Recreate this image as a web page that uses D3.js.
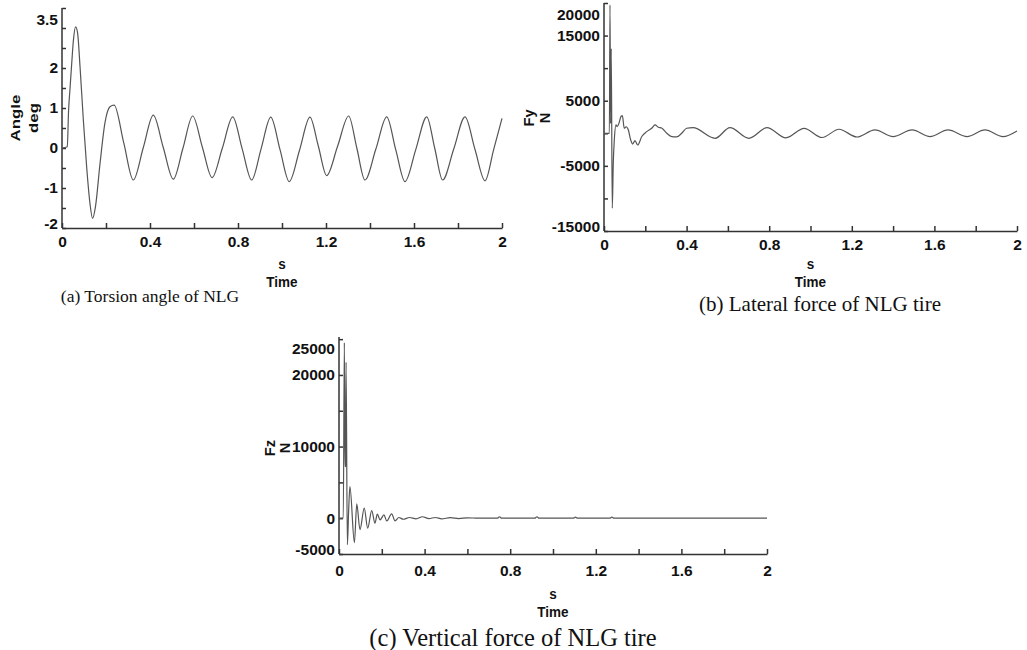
<!DOCTYPE html>
<html>
<head>
<meta charset="utf-8">
<script src="https://cdn.jsdelivr.net/npm/d3@7"></script>
<style>
  body { margin: 0; background: #fff; }
  svg { display: block; }
  .axis text { font-family: "Liberation Sans", Arial, sans-serif; font-weight: bold; font-size: 15.5px; fill: #111; }
  .axis path, .axis line { stroke: #333; stroke-width: 1.5; }
  .ttl { font-family: "Liberation Sans", Arial, sans-serif; font-weight: bold; fill: #111; }
  .stretch { transform-box: fill-box; transform-origin: center; transform: scaleY(1.15); }
  .cap { font-family: "Liberation Serif", "Times New Roman", serif; fill: #111; }
  .curve { fill: none; stroke: #555; stroke-width: 1.2; }
</style>
</head>
<body>
<svg id="fig" width="1027" height="650"></svg>
<script>
//------------------ data ------------------
var timeTicks = [0, 0.2, 0.4, 0.6, 0.8, 1.0, 1.2, 1.4, 1.6, 1.8, 2.0];
var timeLabels = [0, 0.4, 0.8, 1.2, 1.6, 2];

// (a) torsion angle, deg
var angleT = [0, 0.024, 0.030, 0.036, 0.044, 0.052, 0.062, 0.071, 0.082, 0.097, 0.112, 0.127, 0.139, 0.152, 0.173, 0.195, 0.218, 0.237,
  0.281, 0.324, 0.370, 0.415, 0.460, 0.506, 0.550, 0.594, 0.638, 0.682, 0.729, 0.776, 0.819, 0.862, 0.905, 0.949, 0.991, 1.033,
  1.080, 1.127, 1.165, 1.203, 1.253, 1.303, 1.340, 1.377, 1.427, 1.476, 1.517, 1.559, 1.608, 1.658, 1.694, 1.730, 1.781, 1.832,
  1.877, 1.923, 1.962, 2.0];
var angleV = [0, 0.03, 0.95, 1.45, 2.1, 2.7, 3.03, 2.87, 2.03, 0.7, -0.47, -1.38, -1.76, -1.47, -0.38, 0.62, 1.03, 1.07,
  0.12, -0.8, 0.02, 0.82, 0.02, -0.78, 0.0, 0.8, 0.02, -0.74, 0.0, 0.78, -0.02, -0.8, -0.02, 0.77, -0.04, -0.84,
  -0.05, 0.77, 0.05, -0.69, 0.05, 0.8, 0.0, -0.8, -0.02, 0.78, -0.04, -0.84, -0.04, 0.78, 0.0, -0.8, -0.02, 0.78,
  -0.03, -0.82, -0.04, 0.74];
var angleTicks = [-2, -1.5, -1, -0.5, 0, 0.5, 1, 1.5, 2, 2.5, 3, 3.5];
var angleLabels = [-2, -1, 0, 1, 2, 3.5];

// (b) lateral force Fy, N
var fyT = [0, 0.026, 0.029, 0.032, 0.035, 0.040, 0.045, 0.050, 0.058, 0.064, 0.073, 0.082, 0.089, 0.098, 0.107, 0.118, 0.129,
  0.139, 0.150, 0.163, 0.183, 0.207, 0.231, 0.247, 0.263, 0.279, 0.304, 0.328, 0.352, 0.376, 0.400, 0.431, 0.538, 0.610,
  0.702, 0.789, 0.881, 0.969, 1.056, 1.138, 1.225, 1.312, 1.400, 1.492, 1.579, 1.666, 1.758, 1.845, 1.932, 2.0];
var fyV = [0, 0, 19700, 1500, 13000, -11500, -4500, -1000, 1300, 1000, 1600, 2550, 2700, 770, 1000, 500, -1000,
  -1650, -1130, -1800, -500, 250, 770, 1280, 920, 800, 0, -500, -550, 0, 770, 860, -770, 860,
  -770, 860, -700, 760, -650, 620, -570, 520, -520, 520, -520, 520, -520, 520, -520, 350];
var fyTicks = [-15000, -10000, -5000, 0, 5000, 10000, 15000, 20000];
var fyLabels = [-15000, -5000, 5000, 15000, 20000];

// (c) vertical force Fz, N
var fzT = [0, 0.020, 0.025, 0.028, 0.031, 0.033, 0.039, 0.045, 0.051, 0.072, 0.083, 0.098, 0.118, 0.134, 0.153, 0.168,
  0.179, 0.192, 0.210, 0.223, 0.246, 0.262, 0.280, 0.300, 0.330, 0.360, 0.390, 0.420, 0.450, 0.480, 0.520, 0.560,
  0.600, 0.650, 0.740, 0.750, 0.760, 0.915, 0.925, 0.935, 1.095, 1.105, 1.115, 1.265, 1.275, 1.285, 2.0];
var fzV = [0, 0, 24500, 7200, 7300, 21800, -3700, 1000, 4400, -3400, 2000, -1600, 1400, -1400, 1060, -700,
  560, -230, 460, -380, 600, -380, 100, -150, 100, -100, 200, -50, 100, -100, 80, -50,
  50, 0, 0, 200, 0, 0, 200, 0, 0, 150, 0, 0, 150, 0, 0];
var fzTicks = [-5000, 0, 5000, 10000, 15000, 20000, 25000];
var fzLabels = [-5000, 0, 10000, 20000, 25000];

//------------------ panel layout ------------------
var panels = [{
  t: angleT, v: angleV, yDomain: [-2, 3.5], yTicks: angleTicks, yLabels: angleLabels,
  left: 62, right: 502, top: 8, bottom: 228, xPad: 8,
  yTitle: ["Angle", "deg"], yTitleX: [15, 33], yTitleY: 118, yTitleSize: 13.5, yTitleStretch: 1.25,
  sY: 268, timeY: 286, caption: "(a) Torsion angle of NLG", capX: 150, capY: 296, capSize: 17.5
}, {
  t: fyT, v: fyV, yDomain: [-15000, 20000], yTicks: fyTicks, yLabels: fyLabels,
  left: 604, right: 1017, top: 3, bottom: 231, xPad: 8,
  yTitle: ["Fy", "N"], yTitleX: [529, 545], yTitleY: 118, yTitleSize: 14, yTitleStretch: 1.05,
  sY: 268, timeY: 286, caption: "(b) Lateral force of NLG tire", capX: 820, capY: 304, capSize: 21
}, {
  t: fzT, v: fzV, yDomain: [-5000, 25300], yTicks: fzTicks, yLabels: fzLabels,
  left: 339, right: 767, top: 337, bottom: 554, xPad: 11,
  yTitle: ["Fz", "N"], yTitleX: [270, 285], yTitleY: 448, yTitleSize: 14, yTitleStretch: 1.05,
  sY: 598, timeY: 616, caption: "(c) Vertical force of NLG tire", capX: 513, capY: 637, capSize: 24.5
}];

var svg = d3.select("#fig");

function drawPanel(p) {
  var x = d3.scaleLinear().domain([0, 2]).range([p.left, p.right]);
  var y = d3.scaleLinear().domain(p.yDomain).range([p.bottom, p.top]);
  var g = svg.append("g");

  // x axis, ticks point inward
  var xAxis = d3.axisBottom(x)
    .tickValues(timeTicks)
    .tickSize(-5)
    .tickSizeOuter(0)
    .tickPadding(p.xPad)
    .tickFormat(function(d) {
      return timeLabels.some(function(l) { return Math.abs(l - d) < 1e-9; }) ? d3.format("~g")(d) : "";
    });
  g.append("g").attr("class", "axis")
    .attr("transform", "translate(0," + p.bottom + ")")
    .call(xAxis);

  // y axis, labels at the ends are pulled inside like the original
  var allY = p.yTicks.concat(p.yLabels.filter(function(d) { return p.yTicks.indexOf(d) < 0; }));
  var yAxis = d3.axisLeft(y)
    .tickValues(allY)
    .tickSize(-4)
    .tickSizeOuter(0)
    .tickPadding(4)
    .tickFormat(function(d) { return p.yLabels.indexOf(d) >= 0 ? String(d) : ""; });
  var ya = g.append("g").attr("class", "axis")
    .attr("transform", "translate(" + p.left + ",0)")
    .call(yAxis);
  ya.selectAll(".tick text").attr("y", function(d) {
    var py = y(d);
    var cy = Math.max(p.top + 12, Math.min(p.bottom - 4, py));
    return cy - py;
  });
  ya.select(".domain").attr("d", "M0," + p.bottom + "V" + p.top);

  // curve
  var pts = p.t.map(function(t, i) { return { t: t, v: p.v[i] }; });
  var line = d3.line()
    .x(function(d) { return x(d.t); })
    .y(function(d) { return y(d.v); })
    .curve(d3.curveMonotoneX);
  g.append("path").attr("class", "curve").attr("d", line(pts));

  // axis titles
  var xc = (p.left + p.right) / 2;
  g.append("text").attr("class", "ttl stretch").attr("x", xc).attr("y", p.sY)
    .attr("text-anchor", "middle").style("font-size", "13.5px").text("s");
  g.append("text").attr("class", "ttl stretch").attr("x", xc).attr("y", p.timeY)
    .attr("text-anchor", "middle").style("font-size", "13.5px").text("Time");
  p.yTitle.forEach(function(s, i) {
    g.append("text").attr("class", "ttl")
      .attr("transform", "translate(" + p.yTitleX[i] + "," + p.yTitleY + ") rotate(-90) scale(" + p.yTitleStretch + ",1)")
      .attr("text-anchor", "middle").attr("dominant-baseline", "central")
      .style("font-size", p.yTitleSize + "px").text(s);
  });

  // caption
  g.append("text").attr("class", "cap").attr("x", p.capX).attr("y", p.capY)
    .attr("text-anchor", "middle").attr("dominant-baseline", "central")
    .style("font-size", p.capSize + "px").text(p.caption);
}

panels.forEach(drawPanel);
</script>
</body>
</html>
